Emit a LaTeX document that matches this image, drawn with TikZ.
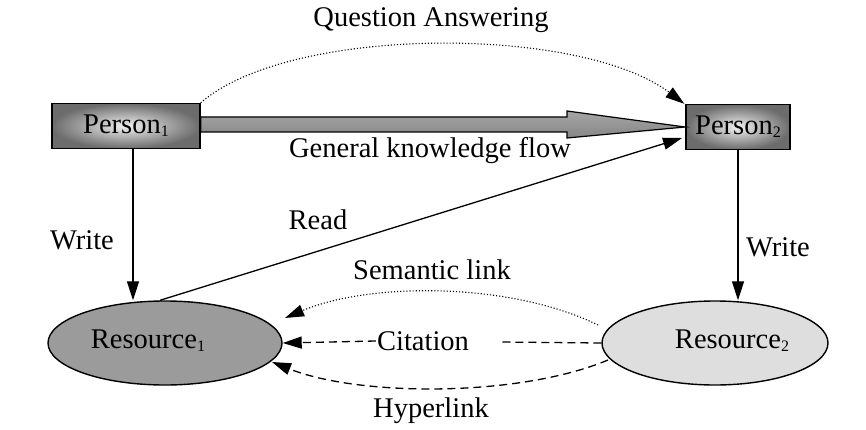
\documentclass[tikz,border=0pt]{standalone}
\usepackage{fontspec}
\setmainfont{Liberation Serif}
\usetikzlibrary{arrows.meta,shapes.geometric}
\definecolor{rone}{RGB}{155,155,155}
\definecolor{rtwo}{RGB}{222,222,222}
\newcommand{\sbs}[1]{\raisebox{-3pt}{\fontsize{16}{16}\selectfont #1}}
\begin{document}
\begin{tikzpicture}[x=1pt,y=-1pt,
  lbl/.style={font=\fontsize{28.5}{31}\selectfont, inner sep=1pt},
  personbox/.style={draw, line width=1.4pt, inner color=gray!12, outer color=gray!85!black,
     minimum height=45pt, inner sep=0pt, font=\fontsize{28.5}{31}\selectfont},
  resbox/.style={draw, ellipse, line width=1.4pt, inner sep=0pt},
  tip/.style={-{Triangle[length=19pt,width=12pt]}},
  arr/.style={tip, line width=1.3pt},
  dasharr/.style={tip, line width=1.3pt, dash pattern=on 8pt off 5pt},
  dotarr/.style={tip, line width=1.1pt, dash pattern=on 1.1pt off 2pt}]
\useasboundingbox (0,0) rectangle (866,430);
% persons
\node[personbox, minimum width=148pt] (p1) at (126,126) {Person\sbs{1}};
\node[personbox, minimum width=104pt] (p2) at (738,127) {Person\sbs{2}};
% resources
\node[resbox, fill=rone, minimum width=234pt, minimum height=84pt] (r1) at (165,343) {};
\node[resbox, fill=rtwo, minimum width=226pt, minimum height=84pt] (r2) at (715,343) {};
\node[lbl] (r1t) at (148,341) {Resource\sbs{1}};
\node[lbl] (r2t) at (732,341) {Resource\sbs{2}};
% general knowledge flow (block arrow)
\draw[line width=1.2pt, top color=gray!70, bottom color=gray!95]
  (p1.east |- 0,117) -- (567,117) -- (567,111) -- (p2.west) -- (567,138) -- (567,132)
  -- (p1.east |- 0,132) -- cycle;
\node[lbl] (gkf) at (430,151) {General knowledge flow};
% question answering
\node[lbl] (qa) at (431,20) {Question Answering};
\draw[dotarr] (p1.north east) .. controls (290,25) and (580,25) .. ([xshift=-1pt]p2.north west);
% write
\draw[arr] ([xshift=7pt]p1.south) -- ([xshift=7pt]p1.south |- r1.north);
\node[lbl] (w1) at (82,240) {Write};
\draw[arr] (p2.south) -- (p2.south |- r2.north);
\node[lbl] (w2) at (778,247) {Write};
% read
\coordinate (readend) at (682,138);
\draw[arr] ([xshift=-5pt]r1.north) -- (readend);
\node[lbl] (rd) at (318,220) {Read};
% semantic link
\coordinate (semS) at (598,325);
\coordinate (semE) at (285,318);
\draw[dotarr] (semS) .. controls (510,282) and (370,282) .. (semE);
\node[lbl] (sem) at (432,270) {Semantic link};
% citation
\node[lbl] (cit) at (423,341) {Citation};
\coordinate (citR) at (500,342);
\draw[line width=1.3pt, dash pattern=on 8pt off 5pt] (r2.west) -- (citR);
\draw[dasharr] (cit.west) -- (r1.east);
% hyperlink
\coordinate (hypS) at (608,360);
\coordinate (hypE) at (272,362);
\draw[dasharr] (hypS) .. controls (520,397) and (360,397) .. (hypE);
\node[lbl] (hyp) at (431,411) {Hyperlink};
\end{tikzpicture}
\end{document}
